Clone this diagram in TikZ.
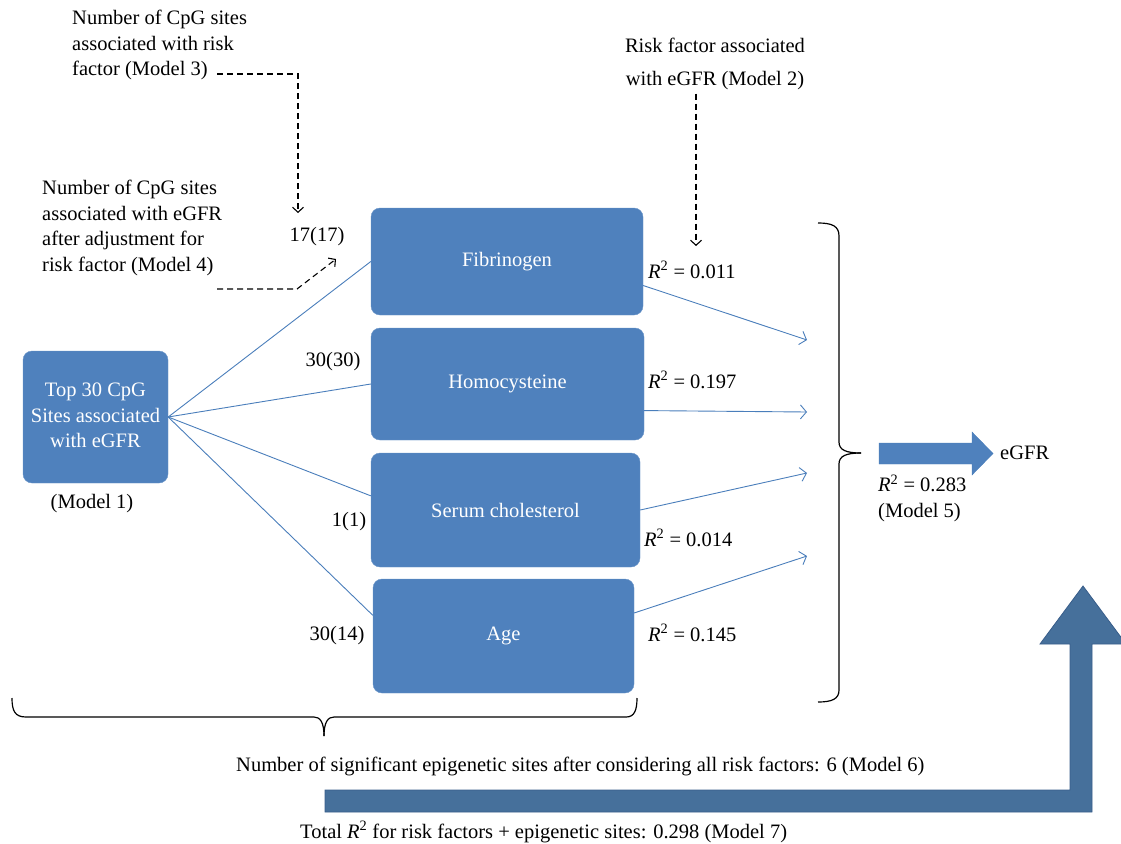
\documentclass[tikz,border=0pt]{standalone}
\usepackage{fontspec}
\setmainfont{Liberation Serif}
\usetikzlibrary{arrows.meta}
\definecolor{boxblue}{HTML}{4F81BD}
\definecolor{linkblue}{HTML}{4A7EBB}
\definecolor{bigblue}{HTML}{46709B}
\definecolor{bigedge}{HTML}{385D8A}
\tikzset{
	riskbox/.style={fill=boxblue, draw=boxblue!85!white, rounded corners=9pt, text=white, inner sep=0pt},
	note/.style={anchor=west, inner xsep=0pt},
	link/.style={draw=linkblue, line width=0.9pt},
	outlink/.style={link, -{Straight Barb[length=6pt,width=14pt]}},
	dashlink/.style={line width=1.1pt, dash pattern=on 6pt off 4pt, -{Straight Barb[length=5pt,width=11pt]}},
	bracket/.style={line width=1.2pt},
}
\newcommand{\Rsq}{\textit{R}\textsuperscript{2}}

\begin{document}
\begin{tikzpicture}[x=1pt, y=-1pt, font=\fontsize{20.5}{25.5}\selectfont]
	\useasboundingbox (0,0) rectangle (1121,843);
	\clip (0,0) rectangle (1121,843);

	% boxes
	\node[riskbox, minimum width=145pt, minimum height=132pt] (top) at (95.5,417){\raisebox{8pt}{\begin{tabular}{@{}c@{}}Top 30 CpG\\Sites associated\\with eGFR\end{tabular}}};
		\node at(92,504){(Model 1)};
	\node[riskbox, minimum width=272pt, minimum height=107pt] (fib) at (507,261.5){Fibrinogen};
	\node[riskbox, minimum width=273pt, minimum height=112pt] (homo) at (507.5,384){Homocysteine};
	\node[riskbox, minimum width=269pt, minimum height=114pt] (chol) at (505.5,510){Serum cholesterol};
	\node[riskbox, minimum width=261pt, minimum height=114pt] (age) at (503.5,636){Age};

	% sites counts
	\node (n17) at(317,237){17(17)};
	\node (n30a) at(333,362){30(30)};
	\node (n1) at(349,522){1(1)};
	\node (n30b) at(337,636){30(14)};

	\draw[link] (top.east) -- (fib.west);
	\draw[link] (top.east) -- (homo.west);
	\draw[link] (top.east) -- (chol.174.5);
	\draw[link] (top.east) -- (age.171.7);

	% risk factors to eGFR
	\coordinate (o1) at (807,340);
	\coordinate (o2) at (807,412);
	\coordinate (o3) at (807,473);
	\coordinate (o4) at (807,556);
	\draw[outlink] (fib.-10.5) -- (o1);
	\draw[outlink] (homo.-11.4) -- (o2);
	\draw[outlink] (chol.east) -- (o3);
	\draw[outlink] (age.10) -- (o4);

	\node[note] (r1) at(648,270){\Rsq{} = 0.011};
	\node[note] (r2) at(648,380){\Rsq{} = 0.197};
	\node[note] (r3) at(644,538){\Rsq{} = 0.014};
	\node[note] (r4) at(648,633){\Rsq{} = 0.145};

	% notes with dashed pointers
	\node[note, align=left] (m3) at(72,45){Number of CpG sites\\associated with risk\\factor (Model 3)};
	\node[note, align=left] (m4) at(42,228){Number of CpG sites\\associated with eGFR\\after adjustment for\\risk factor (Model 4)};
	\node[align=center] (m2) at(715,64){Risk factor associated\\[8pt]with eGFR (Model 2)};
	\coordinate (d3) at (217,74);
	\coordinate (tip3) at (298,213);
	\coordinate (d4) at (217,289);
	\coordinate (tip4) at (336,259);
	\coordinate (tip2) at (696,246);
	\draw[dashlink] (d3) -| (tip3);
	\draw[dashlink] (d4) -- (297,289) -- (tip4);
	\draw[dashlink] (m2.south -| tip2) -- (tip2);

	% braces
	\draw[bracket] (818,223) .. controls (832,223) and (839,226) .. (839,236) -- (839,442) .. controls (839,450) and (846,453) .. (861,453);
	\draw[bracket] (861,453) .. controls (846,453) and (839,456) .. (839,464) -- (839,690) .. controls (839,699) and (832,702) .. (818,702);
	\draw[bracket] (12,698) .. controls (12,711) and (15,717) .. (26,717) -- (314,717) .. controls (320,717) and (324,722) .. (324,736);
	\draw[bracket] (324,736) .. controls (324,722) and (328,717) .. (334,717) -- (626,717) .. controls (634,717) and (637,711) .. (637,698);

	% model 5
	\draw[fill=boxblue, draw=linkblue] (879,443) -- (972,443) -- (972,432) -- (993,453.5) -- (972,475) -- (972,464) -- (879,464) -- cycle;
	\node[note] (egfr) at(1000,453){eGFR};
	\node[note, align=left] (m5) at(878,498){\Rsq{} = 0.283\\(Model 5)};

	% model 6 and 7
	\node[note] (m6) at(236,766){Number of significant epigenetic sites after considering all risk factors: 6 (Model 6)};
	\draw[fill=bigblue, draw=bigedge, line width=0.8pt] (325,790) -- (1070,790) -- (1070,644) -- (1040,644) -- (1083,586) -- (1126,644) -- (1092,644) -- (1092,812) -- (325,812) -- cycle;
	\node[note] (m7) at(300,832){Total \Rsq{} for risk factors + epigenetic sites: 0.298 (Model 7)};
\end{tikzpicture}
\end{document}
